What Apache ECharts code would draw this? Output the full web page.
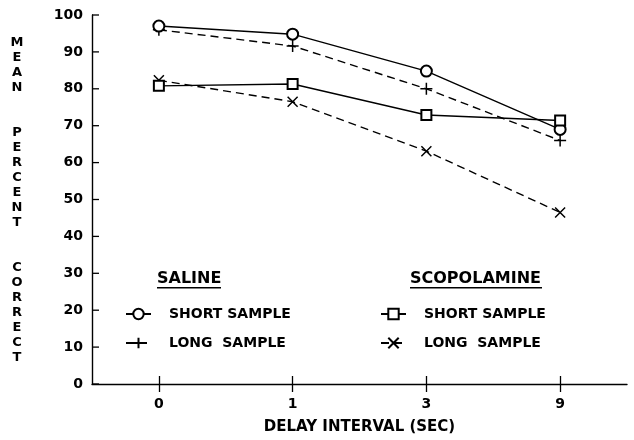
<!DOCTYPE html>
<html>
<head>
<meta charset="utf-8">
<script src="https://cdn.jsdelivr.net/npm/echarts@6/dist/echarts.min.js"></script>
<style>html,body{margin:0;padding:0;background:#fff}#c{width:634px;height:440px}</style>
</head>
<body>
<div id="c"></div>
<script>
var categories = ['0', '1', '3', '9'];
var yTicks = [0, 10, 20, 30, 40, 50, 60, 70, 80, 90, 100];
var salineShort = [97.0, 94.8, 84.8, 69.0];
var salineLong = [96.0, 91.6, 80.0, 66.0];
var scopShort = [80.8, 81.3, 72.9, 71.4];
var scopLong = [82.3, 76.5, 63.1, 46.5];

var legendNames = {
  salineShort: 'SHORT SAMPLE', salineLong: 'LONG  SAMPLE',
  scopShort: 'SHORT SAMPLE', scopLong: 'LONG  SAMPLE'
};
var FONT = '"DejaVu Sans", sans-serif';
var PLUS = 'path://M0,6L12,6M6,0L6,12';
var CROSS = 'path://M0,0L10,10M10,0L0,10';

function mkSeries(name, data, symbol, size, dashed) {
  return {
    name: name, type: 'line', data: data,
    symbol: symbol, symbolSize: size,
    lineStyle: { color: '#000', width: 1.4, type: dashed ? [8, 5] : 'solid' },
    itemStyle: { color: '#000', borderColor: '#000', borderWidth: 1.5 },
    emphasis: { disabled: true },
    z: dashed ? 2 : 3
  };
}

var chart = echarts.init(document.getElementById('c'), null, { renderer: 'canvas' });
var legendCommon = {
  orient: 'vertical', selectedMode: false, itemWidth: 25, itemHeight: 13, itemGap: 15,
  formatter: function (n) { return legendNames[n]; },
  textStyle: { fontFamily: FONT, fontWeight: 'bold', fontSize: 14, color: '#000', padding: [0, 0, 0, 13] }
};
var baseGraphic = [
  { type: 'text', x: 17, y: 200, style: {
    text: 'M\nE\nA\nN\n\n\nP\nE\nR\nC\nE\nN\nT\n\n\nC\nO\nR\nR\nE\nC\nT',
    align: 'center', verticalAlign: 'middle', lineHeight: 15,
    font: 'bold 13px "DejaVu Sans", sans-serif', fill: '#000' } },
  { type: 'text', x: 157, y: 279, style: { text: 'SALINE', verticalAlign: 'middle',
    font: 'bold 16px "DejaVu Sans", sans-serif', fill: '#000' } },
  { type: 'rect', shape: { x: 157, y: 287, width: 64, height: 1.6 }, style: { fill: '#000' } },
  { type: 'text', x: 410, y: 279, style: { text: 'SCOPOLAMINE', verticalAlign: 'middle',
    font: 'bold 16px "DejaVu Sans", sans-serif', fill: '#000' } },
  { type: 'rect', shape: { x: 410, y: 287, width: 132, height: 1.6 }, style: { fill: '#000' } }
];
chart.setOption({
  animation: false,
  backgroundColor: '#fff',
  grid: { left: 92, right: 7, top: 15, bottom: 56, containLabel: false },
  xAxis: [{
    type: 'category', data: categories, boundaryGap: true,
    axisLine: { show: true, lineStyle: { color: '#000', width: 1.4 } },
    axisTick: { show: true, alignWithLabel: true, length: 8, lineStyle: { color: '#000', width: 1.3 } },
    axisLabel: { show: true, margin: 13, color: '#000', fontFamily: FONT, fontWeight: 'bold', fontSize: 14 },
    name: 'DELAY INTERVAL (SEC)', nameLocation: 'middle', nameGap: 36,
    nameTextStyle: { color: '#000', fontFamily: FONT, fontWeight: 'bold', fontSize: 15 },
    splitLine: { show: false }
  }, {
    type: 'category', data: categories, boundaryGap: true, position: 'bottom',
    axisLine: { show: false },
    axisTick: { show: true, inside: true, alignWithLabel: true, length: 8, lineStyle: { color: '#000', width: 1.3 } },
    axisLabel: { show: false }, splitLine: { show: false }
  }],
  yAxis: {
    type: 'value', min: yTicks[0], max: yTicks[yTicks.length - 1], interval: 10,
    axisLine: { show: true, lineStyle: { color: '#000', width: 1.4 } },
    axisTick: { show: false },
    axisLabel: { show: true, margin: 9, color: '#000', fontFamily: FONT, fontWeight: 'bold', fontSize: 14 },
    splitLine: { show: false }
  },
  legend: [
    Object.assign({}, legendCommon, { left: 120, top: 302, data: ['salineShort', 'salineLong'] }),
    Object.assign({}, legendCommon, { left: 375, top: 302, data: ['scopShort', 'scopLong'] })
  ],
  graphic: baseGraphic,
  series: [
    mkSeries('salineShort', salineShort, 'emptyCircle', 11, false),
    mkSeries('salineLong', salineLong, PLUS, 12, true),
    mkSeries('scopShort', scopShort, 'emptyRect', 10, false),
    mkSeries('scopLong', scopLong, CROSS, 10, true)
  ]
});

// Inward-pointing y-axis ticks, positioned through the chart's own scales
var p0 = chart.convertToPixel({ gridIndex: 0 }, [categories[0], yTicks[0]]);
var p1 = chart.convertToPixel({ gridIndex: 0 }, [categories[1], yTicks[0]]);
var axisX = p0[0] - (p1[0] - p0[0]) / 2;
var tickEls = yTicks.map(function (v) {
  var y = chart.convertToPixel({ yAxisIndex: 0 }, v);
  return { type: 'line', z: 100, silent: true,
    shape: { x1: axisX, y1: y, x2: axisX + 7, y2: y },
    style: { stroke: '#000', lineWidth: 1.3 } };
});
chart.setOption({ graphic: baseGraphic.concat(tickEls) });
</script>
</body>
</html>
